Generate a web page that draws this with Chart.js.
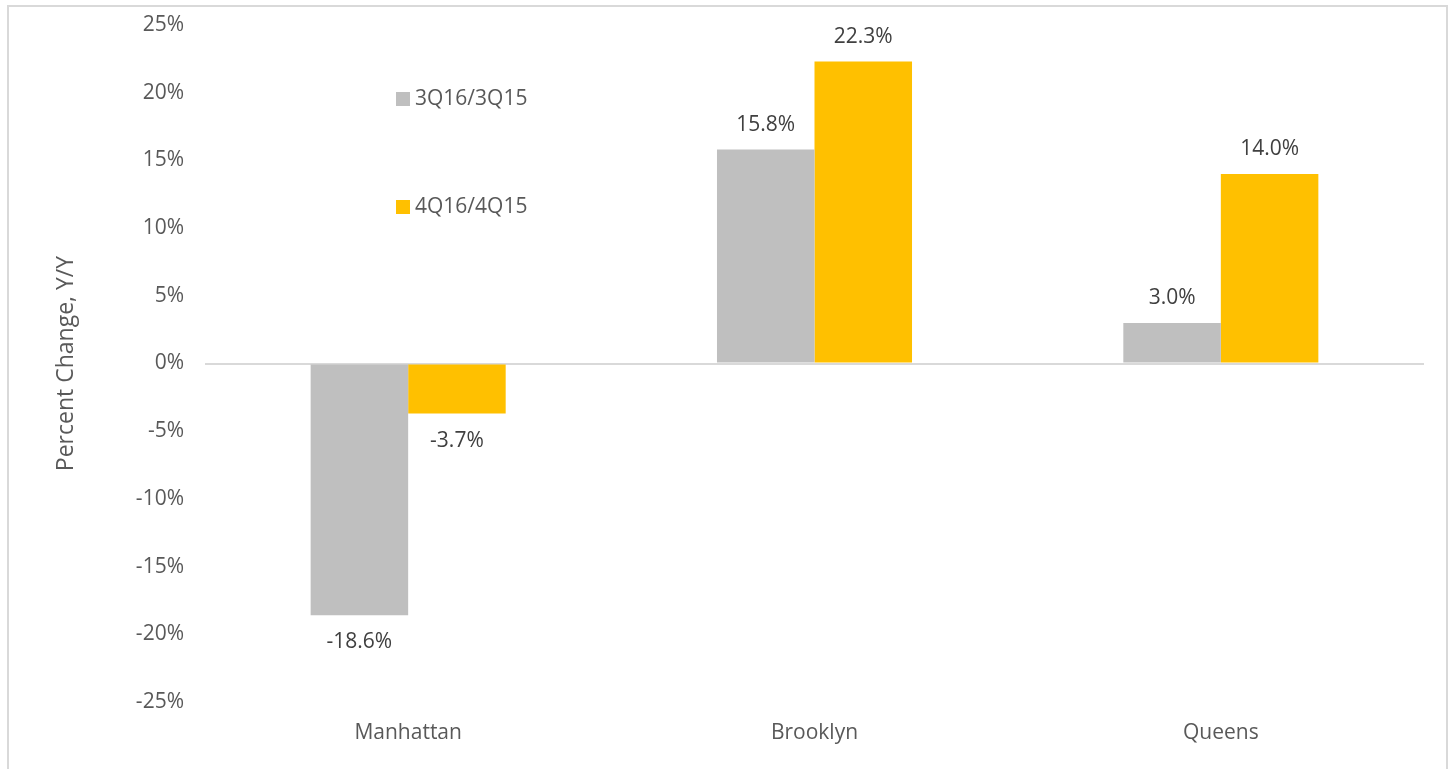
<!DOCTYPE html>
<html>
<head>
<meta charset="utf-8">
<script src="https://cdn.jsdelivr.net/npm/chart.js@4.4.1/dist/chart.umd.min.js"></script>
<style>
  html, body { margin: 0; padding: 0; background: #fff; overflow: hidden; }
  .frame { position: absolute; left: 7px; top: 5px; width: 1441px; height: 790px; border: 2px solid #d9d9d9; box-sizing: border-box; }
  .chart-box { position: absolute; left: 0; top: 0; width: 1450px; height: 769px; }
</style>
</head>
<body>
<div class="frame"></div>
<div class="chart-box"><canvas id="myChart"></canvas></div>
<script>
const boroughs = ['Manhattan', 'Brooklyn', 'Queens'];
const seriesNames = ['3Q16/3Q15', '4Q16/4Q15'];
const q3Change = [-18.6, 15.8, 3.0];
const q4Change = [-3.7, 22.3, 14.0];
const seriesColors = ['#bfbfbf', '#ffc000'];

const fontFamily = '"Open Sans", sans-serif';
const textColor = '#595959';

// values printed above / below each bar
const valueLabels = {
  id: 'valueLabels',
  afterDatasetsDraw(chart) {
    const ctx = chart.ctx;
    ctx.save();
    ctx.font = '21px ' + fontFamily;
    ctx.fillStyle = '#404040';
    ctx.textAlign = 'center';
    ctx.textBaseline = 'middle';
    chart.data.datasets.forEach((ds, i) => {
      chart.getDatasetMeta(i).data.forEach((bar, j) => {
        const v = ds.data[j];
        const y = v >= 0 ? bar.y - 25 : bar.y + 27;
        ctx.fillText(v.toFixed(1) + '%', bar.x, y);
      });
    });
    ctx.restore();
  }
};

// legend sits inside the plot, stacked vertically
const innerLegend = {
  id: 'innerLegend',
  afterDraw(chart) {
    const ctx = chart.ctx;
    const area = chart.chartArea;
    const x = area.left + 191;
    let y = area.top + 74;
    ctx.save();
    ctx.font = '21px ' + fontFamily;
    ctx.textBaseline = 'middle';
    ctx.textAlign = 'left';
    chart.data.datasets.forEach((ds) => {
      ctx.fillStyle = ds.backgroundColor;
      ctx.fillRect(x, y - 7, 14, 14);
      ctx.fillStyle = textColor;
      ctx.fillText(ds.label, x + 19, y);
      y += 108;
    });
    ctx.restore();
  }
};

let ctx = document.getElementById('myChart').getContext('2d');

new Chart(ctx, {
  type: 'bar',
  data: {
    labels: boroughs,
    datasets: [{
      label: seriesNames[0],
      data: q3Change,
      backgroundColor: seriesColors[0]
    }, {
      label: seriesNames[1],
      data: q4Change,
      backgroundColor: seriesColors[1]
    }]
  },
  options: {
    responsive: true,
    maintainAspectRatio: false,
    animation: false,
    categoryPercentage: 0.48,
    barPercentage: 1.0,
    layout: {
      padding: { left: 51, right: 26, top: 0, bottom: 0 }
    },
    plugins: {
      legend: { display: false },
      tooltip: { enabled: false }
    },
    scales: {
      x: {
        afterFit: (s) => { s.height = 67; },
        grid: { display: false },
        border: { display: false },
        ticks: {
          color: textColor,
          padding: 10,
          font: { size: 21, family: fontFamily }
        }
      },
      y: {
        min: -25,
        max: 25,
        afterFit: (s) => {
          s.width = 154;
          s.paddingTop = 25;
          s.paddingBottom = 0;
        },
        grid: {
          drawTicks: false,
          lineWidth: 2,
          color: (c) => c.tick && c.tick.value === 0 ? '#d9d9d9' : 'rgba(0,0,0,0)'
        },
        border: { display: false },
        ticks: {
          stepSize: 5,
          padding: 21,
          color: textColor,
          font: { size: 21, family: fontFamily },
          callback: (v) => v + '%'
        },
        title: {
          display: true,
          text: 'Percent Change, Y/Y',
          color: textColor,
          padding: { top: 2, bottom: 4 },
          font: { size: 23, family: fontFamily }
        }
      }
    }
  },
  plugins: [valueLabels, innerLegend]
});
</script>
</body>
</html>
